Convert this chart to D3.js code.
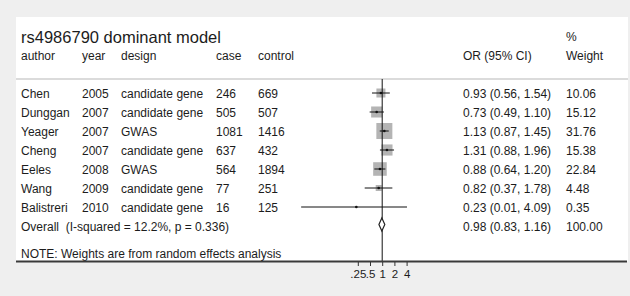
<!DOCTYPE html>
<html>
<head>
    <title>rs4986790 dominant model</title>
    <script src='https://d3js.org/d3.v7.min.js'></script>
<style>
    html,body {
        margin: 0;
        background-color: #efefef;
    }
    svg {
        display: block;
    }
    text {
        font-family: 'Liberation Sans', Arial, sans-serif;
        font-size: 12px;
        fill: #1c1c1c;
    }
</style>
</head>
<body>
<div id='cont'></div>
<script>

//DATA
let authors = ['Chen','Dunggan','Yeager','Cheng','Eeles','Wang','Balistreri']
let years   = [2005, 2007, 2007, 2007, 2008, 2009, 2010]
let designs = ['candidate gene','candidate gene','GWAS','candidate gene','GWAS','candidate gene','candidate gene']
let cases   = [246, 505, 1081, 637, 564, 77, 16]
let controls= [669, 507, 1416, 432, 1894, 251, 125]
let or      = [0.93, 0.73, 1.13, 1.31, 0.88, 0.82, 0.23]
let lo      = [0.56, 0.49, 0.87, 0.88, 0.64, 0.37, 0.01]
let hi      = [1.54, 1.10, 1.45, 1.96, 1.20, 1.78, 4.09]
let weights = [10.06, 15.12, 31.76, 15.38, 22.84, 4.48, 0.35]
let overall = {or: 0.98, lo: 0.83, hi: 1.16, w: 100.00, label: 'Overall  (I-squared = 12.2%, p = 0.336)'}
let ticks   = [0.25, 0.5, 1, 2, 4]
let tickLabels = ['.25', '.5', '1', '2', '4']

//DECLARE
let W = 630, H = 296
let pL = 16, pT = 17, pR = 628, pB = 261.5
let fmt = d3.format('.2f')

let svg = d3.select('#cont').append('svg')
    .attr('width', W)
    .attr('height', H)

// scales
let x = d3.scaleLog().base(2).domain([0.25, 4]).range([357.8, 406.6])
let y = d3.scaleLinear().domain([0, 1]).range([97.5, 116.5])   // baseline of row i
let boxSize = d3.scaleSqrt().domain([0, d3.max(weights)]).range([0, 16])

//PANEL
svg.append('rect')
    .attr('x', pL).attr('y', pT)
    .attr('width', pR - pL).attr('height', pB - pT)
    .attr('fill', 'white')

svg.append('line')
    .attr('x1', pL).attr('x2', pR)
    .attr('y1', 79).attr('y2', 79)
    .attr('stroke', '#cfcfcf').attr('stroke-width', 1.5)

//HEADER
svg.append('text').text('rs4986790 dominant model')
    .attr('x', 21).attr('y', 42.5)
    .style('font-size', '16.5px')

let cols = [
    {key: 'author', x: 21},
    {key: 'year', x: 82},
    {key: 'design', x: 121},
    {key: 'case', x: 216},
    {key: 'control', x: 258},
    {key: 'OR (95% CI)', x: 463},
    {key: 'Weight', x: 566}
]
cols.forEach(c => {
    svg.append('text').text(c.key).attr('x', c.x).attr('y', 60)
})
svg.append('text').text('%').attr('x', 566).attr('y', 41)

//ROWS
let rows = authors.map((a, i) => ({
    author: a, year: years[i], design: designs[i], case: cases[i], control: controls[i],
    or: or[i], lo: lo[i], hi: hi[i], w: weights[i], i: i
}))

let g = svg.selectAll('.row').data(rows).enter().append('g').attr('class', 'row')
g.append('text').text(d => d.author).attr('x', 21).attr('y', d => y(d.i))
g.append('text').text(d => d.year).attr('x', 82).attr('y', d => y(d.i))
g.append('text').text(d => d.design).attr('x', 121).attr('y', d => y(d.i))
g.append('text').text(d => d.case).attr('x', 216).attr('y', d => y(d.i))
g.append('text').text(d => d.control).attr('x', 258).attr('y', d => y(d.i))
g.append('text').text(d => fmt(d.or) + ' (' + fmt(d.lo) + ', ' + fmt(d.hi) + ')').attr('x', 463).attr('y', d => y(d.i))
g.append('text').text(d => fmt(d.w)).attr('x', 566).attr('y', d => y(d.i))

let yOverall = y(7)
svg.append('text').text(overall.label).attr('x', 21).attr('y', yOverall)
    .style('white-space', 'pre')
svg.append('text').text(fmt(overall.or) + ' (' + fmt(overall.lo) + ', ' + fmt(overall.hi) + ')')
    .attr('x', 463).attr('y', yOverall)
svg.append('text').text(fmt(overall.w)).attr('x', 566).attr('y', yOverall)

svg.append('text').text('NOTE: Weights are from random effects analysis')
    .attr('x', 21).attr('y', 258)

//FOREST
// boxes
g.append('rect')
    .attr('x', d => x(d.or) - boxSize(d.w) / 2)
    .attr('y', d => y(d.i) - 4.5 - boxSize(d.w) / 2)
    .attr('width', d => boxSize(d.w))
    .attr('height', d => boxSize(d.w))
    .attr('fill', '#b4b4b4')

// null line
svg.append('line')
    .attr('x1', x(1)).attr('x2', x(1))
    .attr('y1', 79).attr('y2', pB)
    .attr('stroke', '#111').attr('stroke-width', 1)

// confidence intervals
g.append('line')
    .attr('x1', d => x(d.lo)).attr('x2', d => x(d.hi))
    .attr('y1', d => y(d.i) - 4.5).attr('y2', d => y(d.i) - 4.5)
    .attr('stroke', '#111').attr('stroke-width', 1)

g.append('circle')
    .attr('cx', d => x(d.or)).attr('cy', d => y(d.i) - 4.5)
    .attr('r', 1.3).attr('fill', '#111')

// overall diamond
let yc = yOverall - 6
svg.append('path')
    .attr('d', 'M' + x(overall.lo) + ',' + yc +
               'L' + x(overall.or) + ',' + (yc - 6.5) +
               'L' + x(overall.hi) + ',' + yc +
               'L' + x(overall.or) + ',' + (yc + 6.5) + 'Z')
    .attr('fill', 'white').attr('stroke', '#222').attr('stroke-width', 1.2)

//AXIS
svg.append('line')
    .attr('x1', pL).attr('x2', pR - 1)
    .attr('y1', pB).attr('y2', pB)
    .attr('stroke', '#3a3a3a').attr('stroke-width', 2)

let axis = d3.axisBottom(x).tickValues(ticks).tickFormat((d, i) => tickLabels[i]).tickSize(4).tickPadding(4)
let ax = svg.append('g').attr('transform', 'translate(0,' + (pB + 0.5) + ')').call(axis)
ax.select('.domain').remove()
ax.selectAll('.tick line').attr('stroke', '#333')
ax.selectAll('.tick text').style('font-size', '11.5px').attr('fill', '#1c1c1c')

</script>
</body>
</html>
